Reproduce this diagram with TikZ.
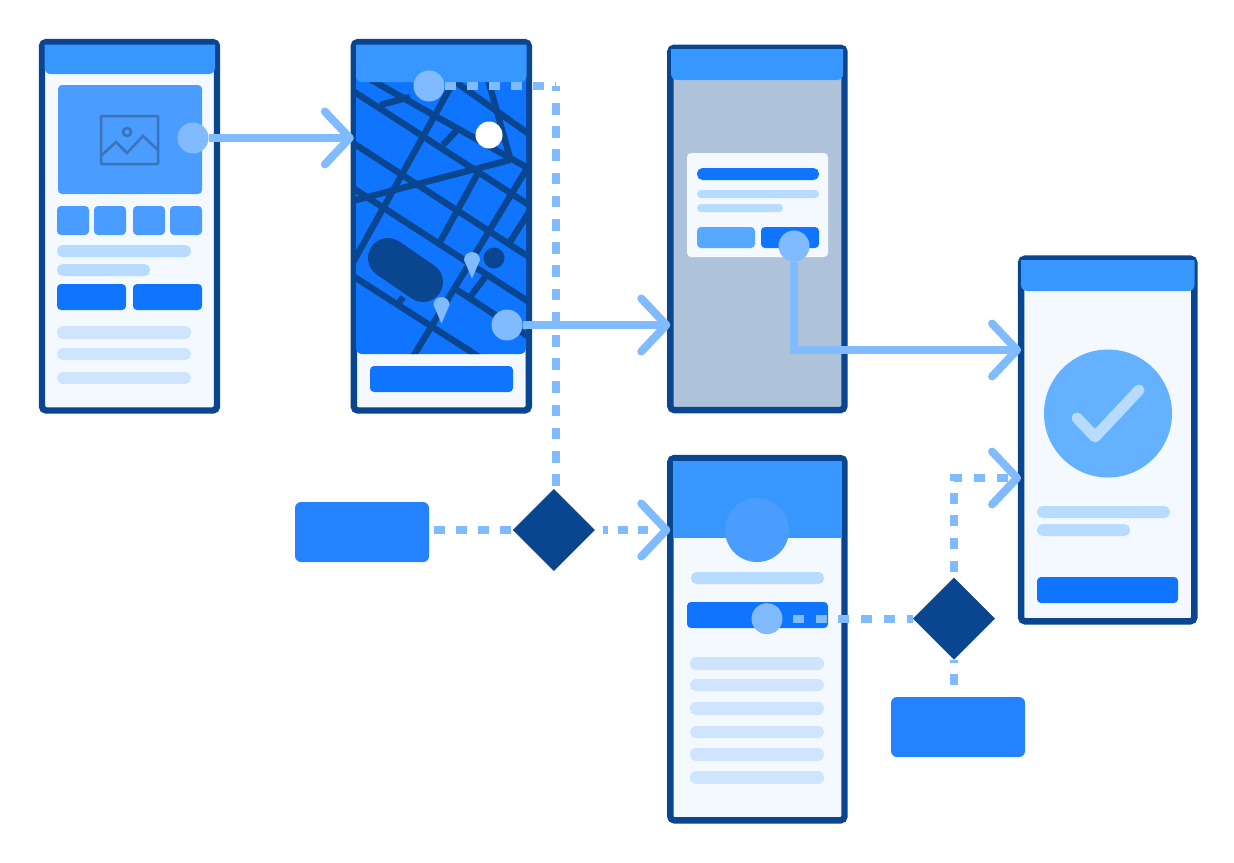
\documentclass[tikz,border=0pt]{standalone}
\usepackage{tikz}
\usetikzlibrary{arrows.meta, calc, positioning, shapes.geometric}
\definecolor{kante}{HTML}{0A458F}
\definecolor{kopf}{HTML}{3897FF}
\definecolor{flaeche}{HTML}{F4F9FF}
\definecolor{bild}{HTML}{4A9DFF}
\definecolor{knopf}{HTML}{0F75FF}
\definecolor{zeileA}{HTML}{B8DCFF}
\definecolor{zeileB}{HTML}{CFE5FF}
\definecolor{punkt}{HTML}{80BBFF}
\definecolor{kiste}{HTML}{2482FF}
\definecolor{grau}{HTML}{AEC3D9}
\definecolor{ikon}{HTML}{3A74B8}
\definecolor{hell}{HTML}{64B1FF}
\definecolor{hellknopf}{HTML}{57A9FF}

\begin{document}
\begin{tikzpicture}[
    x=1pt, y=-1pt,
    screen/.style={draw=kante, fill=flaeche, line width=6.4pt, rounded corners=4pt,
      rectangle, outer sep=0pt, inner sep=0pt},
    hotspot/.style={circle, fill=punkt, minimum size=31pt, inner sep=0pt, outer sep=0pt},
    entscheid/.style={diamond, fill=kante, minimum width=82pt, minimum height=82pt,
      inner sep=0pt, outer sep=0pt},
    kastenblau/.style={rectangle, fill=kiste, rounded corners=6pt, minimum width=134pt,
      minimum height=60pt, inner sep=0pt, outer sep=0pt},
    balken/.style={rounded corners=4pt},
    zeile/.style={rounded corners=5.5pt},
    spitze/.style={-{Straight Barb[length=25pt, width=53pt, line width=8pt, round]}},
    fluss/.style={draw=punkt, line width=7.5pt, spitze},
    flussdash/.style={draw=punkt, line width=8pt, dash pattern=on 11pt off 11.7pt},
    strasse/.style={draw=kante, line width=6.4pt},
  ]
  \useasboundingbox (0,0) rectangle (1234,862);

  % Screens
  \node[screen, minimum width=175pt, minimum height=368.3pt] (home) at (129.5,226.3) {};
  \node[screen, minimum width=175pt, minimum height=368.3pt] (map) at (441.3,226.3) {};
  \node[screen, fill=grau, minimum width=174.2pt, minimum height=362.3pt] (dialog) at (757.4,228.9) {};
  \node[screen, minimum width=174.2pt, minimum height=362.3pt] (profile) at (757.4,639.2) {};
  \node[screen, minimum width=173.3pt, minimum height=362.7pt] (done) at (1107.7,440) {};

  % Kopfzeilen
  \foreach \xa/\xb/\ya/\yb in {44.5/215/44.5/74, 671/843/49/80, 1021/1194.5/260/291}
    \fill[kopf] (\xa,\ya) -- (\xb,\ya) [rounded corners=6pt] -- (\xb,\yb) -- (\xa,\yb)
      [sharp corners] -- cycle;
  \fill[kopf] (673,460.5) rectangle (842,538);

  % Home
  \fill[bild, balken] (58,85) rectangle (202,194);
  \draw[ikon, line width=2.5pt, rounded corners=1pt] (101,116) rectangle (158,164);
  \draw[ikon, line width=2.5pt] (127,132) circle (4pt);
  \draw[ikon, line width=2.5pt] (102,155) -- (116,142) -- (127,153) -- (143,136) -- (158,150);
  \foreach \xa/\xb in {57/89, 94/126, 133/165, 170/202}
    \fill[bild, balken] (\xa,206) rectangle (\xb,235);
  \fill[zeileA, zeile] (57,245) rectangle (191,257);
  \fill[zeileA, zeile] (57,264) rectangle (150,276);
  \fill[knopf, balken] (57,284) rectangle (126,310);
  \fill[knopf, balken] (133,284) rectangle (202,310);
  \foreach \ya/\yb in {326/339, 348/360, 372/384}
    \fill[zeileB, zeile] (57,\ya) rectangle (191,\yb);

  % Karte
  \fill[knopf, rounded corners=6pt] (356,70) rectangle (526,354);
  \begin{scope}
    \clip[rounded corners=6pt] (356,70) rectangle (526,354);
    \foreach \xa/\ya/\xb/\yb in {346/86.5/536/209.5, 366/77/536/172.6, 450/78/536/139,
        346/138.5/536/261.5, 346/183.5/536/306.5, 346/271.6/483/359.4, 457/290/536/341.5,
        346/275/455/79, 440/242/478/173, 408/365/536/153.5, 510/242/536/201,
        470/297/485/277, 443/145/457/130, 399/303/403/297, 346/202.6/510/160,
        380/105/410/97, 487/76/510/158}
      \draw[strasse] (\xa,\ya) -- (\xb,\yb);
    \draw[kante, line width=40pt, line cap=round] (388,258) -- (423,282);
    \fill[kante] (494,258) circle (10.5pt);
    \fill[white] (489,135) circle (13.5pt);
  \end{scope}
  \fill[kopf] (356,44.5) -- (526.5,44.5) [rounded corners=6pt] -- (526.5,82) -- (356,82)
    [sharp corners] -- cycle;
  \foreach \xa/\ya in {472/260, 441.5/305}
    \fill[punkt] (\xa-8,\ya) arc[start angle=180, end angle=0, radius=8pt]
      -- (\xa,\ya+18.5) -- cycle;
  \fill[knopf, balken] (370,366) rectangle (513,392);

  % Dialog
  \fill[flaeche, balken] (687,153) rectangle (828,257);
  \fill[knopf, zeile] (697,168) rectangle (819,180);
  \fill[zeileA, rounded corners=4pt] (697,190) rectangle (819,198);
  \fill[zeileA, rounded corners=4pt] (697,204) rectangle (783,212);
  \fill[hellknopf, balken] (697,227) rectangle (755,248);
  \fill[knopf, balken] (761,227) rectangle (819,248);

  % Profil
  \fill[bild] (757,530) circle (32pt);
  \fill[zeileA, zeile] (691,572) rectangle (824,584);
  \fill[knopf, balken] (687,602) rectangle (828,628);
  \foreach \ya/\yb in {657/670, 679/691, 702/715, 726/738, 748/761, 771/784}
    \fill[zeileB, zeile] (690,\ya) rectangle (824,\yb);

  % Fertig
  \fill[hell] (1108,413.5) circle (64pt);
  \draw[zeileA, line width=11pt, line cap=round, line join=round]
    (1077,418) -- (1095,437) -- (1139,390);
  \fill[zeileA, zeile] (1037,506) rectangle (1170,518);
  \fill[zeileA, zeile] (1037,524) rectangle (1130,536);
  \fill[knopf, balken] (1037,577) rectangle (1178,603);

  % Hotspots, Entscheidungen
  \node[hotspot] (h1) at (193,138) {};
  \node[hotspot] (h2) at (429,86) {};
  \node[hotspot] (h3) at (507,325) {};
  \node[hotspot] (h4) at (794,246) {};
  \node[hotspot] (h5) at (767,618.7) {};
  \node[entscheid] (d1) at (553.8,530) {};
  \node[entscheid] (d2) at (954,618.7) {};
  \node[kastenblau] (b1) at (362,532) {};
  \node[kastenblau] (b2) at (958,727) {};
  \coordinate (e1) at (555.5,86);
  \coordinate (e2) at (954,478);

  % Verbindungen
  \draw[fluss] (h1) -- (map.west |- h1);
  \draw[fluss] (h3) -- (dialog.west |- h3);
  \draw[fluss] (h4) |- (done.west |- 0,350);
  \draw[flussdash, dash pattern=on 11pt off 11pt] (h2) -- (e1);
  \draw[flussdash, dash pattern=on 11.5pt off 11.7pt, dash phase=6.2pt] (e1) -- (e1 |- d1.north);
  \draw[flussdash, dash pattern=on 11pt off 11pt, shorten <=4.5pt] (b1.east |- d1) -- (d1);
  \draw[flussdash, dash pattern=on 5pt off 10pt on 10pt off 10pt on 10pt off 40pt,
    shorten <=8pt, spitze] (d1) -- (profile.west |- d1);
  \draw[flussdash, shorten <=10.5pt] (h5) -- (d2);
  \draw[flussdash, shorten <=6pt, spitze] (d2) -- (e2) -- (done.west |- e2);
  \draw[flussdash, dash phase=8pt] (d2) -- (b2.north -| d2);
\end{tikzpicture}
\end{document}
